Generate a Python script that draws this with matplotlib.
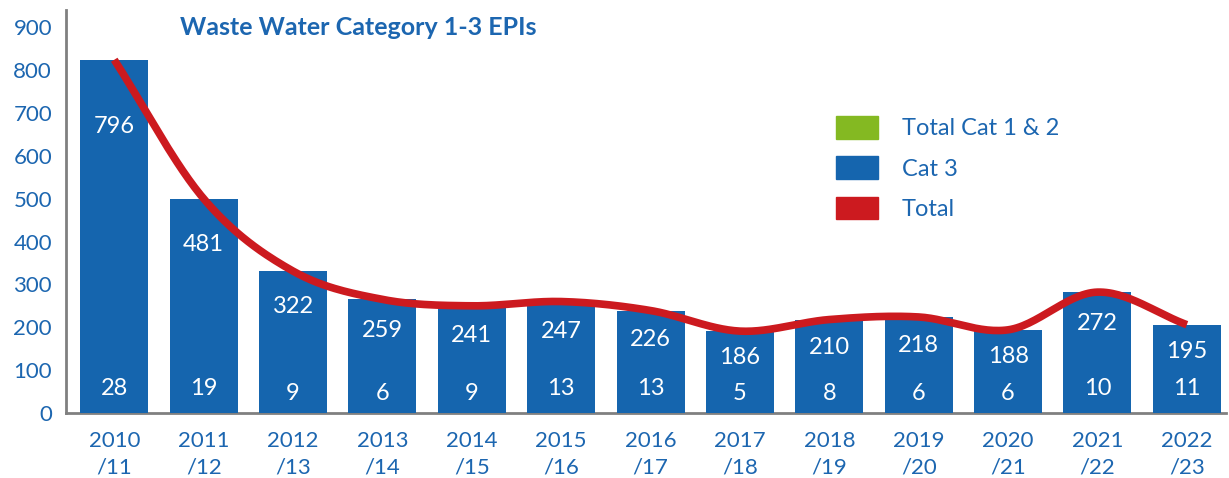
import numpy as np
import matplotlib
matplotlib.use("Agg")
import matplotlib.pyplot as plt
from matplotlib.patches import Patch

# ---- data ----
years = ["2010\n/11", "2011\n/12", "2012\n/13", "2013\n/14", "2014\n/15", "2015\n/16", "2016\n/17",
         "2017\n/18", "2018\n/19", "2019\n/20", "2020\n/21", "2021\n/22", "2022\n/23"]
cat12 = [28, 19, 9, 6, 9, 13, 13, 5, 8, 6, 6, 10, 11]
cat3 = [796, 481, 322, 259, 241, 247, 226, 186, 210, 218, 188, 272, 195]
title = "Waste Water Category 1-3 EPIs"

BLUE = "#1565AE"
TEXT = "#1C66B0"
GREEN = "#84B922"
RED = "#CC1A1F"
GREY = "#808080"

plt.rcParams['font.family'] = ['Lato', 'DejaVu Sans']

cat12 = np.array(cat12)
cat3 = np.array(cat3)
total = cat12 + cat3
x = np.arange(len(years))


def catmull_rom(xs, ys, n=30):
    xs = np.asarray(xs, float)
    ys = np.asarray(ys, float)
    px = np.concatenate([[2 * xs[0] - xs[1]], xs, [2 * xs[-1] - xs[-2]]])
    py = np.concatenate([[2 * ys[0] - ys[1]], ys, [2 * ys[-1] - ys[-2]]])
    ox, oy = [], []
    t = np.linspace(0, 1, n, endpoint=False)
    for i in range(1, len(px) - 2):
        for p, o in ((px, ox), (py, oy)):
            p0, p1, p2, p3 = p[i - 1], p[i], p[i + 1], p[i + 2]
            o.extend(0.5 * ((2 * p1) + (-p0 + p2) * t + (2 * p0 - 5 * p1 + 4 * p2 - p3) * t ** 2
                            + (-p0 + 3 * p1 - 3 * p2 + p3) * t ** 3))
    ox.append(xs[-1])
    oy.append(ys[-1])
    return np.array(ox), np.array(oy)


fig = plt.figure(figsize=(12.29, 4.78), dpi=100)
ax = fig.add_axes([0.0537, 0.136, 0.944, 0.843])

w = 0.76
ax.bar(x, cat12, width=w, color=GREEN, zorder=2)
ax.bar(x, total, width=w, color=BLUE, zorder=3)

# smoothed total line
sx, sy = catmull_rom(x, total)
ax.plot(sx, sy, color=RED, lw=5.5, solid_capstyle='butt', zorder=4)

for xi, c3, t in zip(x, cat3, total):
    ax.text(xi, 0.85 * t - 32, str(c3), color="white", fontsize=17, ha="center", va="center", zorder=5)
for xi, c in zip(x, cat12):
    ax.text(xi, 58 if c >= 10 else 45, str(c), color="white", fontsize=17, ha="center", va="center", zorder=5)

ax.set_xlim(-0.54, len(years) - 0.56)
ax.set_ylim(0, 940)
ax.set_yticks(range(0, 901, 100))
ax.set_xticks(x)
ax.set_xticklabels(years, fontsize=16, color=TEXT, linespacing=1.4)
ax.tick_params(axis='y', labelsize=16, labelcolor=TEXT, length=0, pad=10)
ax.tick_params(axis='x', length=0, pad=13)

for s in ("top", "right"):
    ax.spines[s].set_visible(False)
for s in ("left", "bottom"):
    ax.spines[s].set_color(GREY)
    ax.spines[s].set_linewidth(2)
    ax.spines[s].set_zorder(1)

ax.text(0.098, 0.985, title, transform=ax.transAxes, fontsize=18, fontweight="bold",
        color=TEXT, ha="left", va="top")

handles = [Patch(color=GREEN), Patch(color=BLUE), Patch(color=RED)]
ax.legend(handles, ["Total Cat 1 & 2", "Cat 3", "Total"], loc="upper left",
          bbox_to_anchor=(0.645, 0.79), frameon=False, fontsize=17, labelcolor=TEXT,
          handlelength=1.8, handleheight=1.1, handletextpad=1.0, labelspacing=0.72)

fig.savefig("out.png", dpi=100)
